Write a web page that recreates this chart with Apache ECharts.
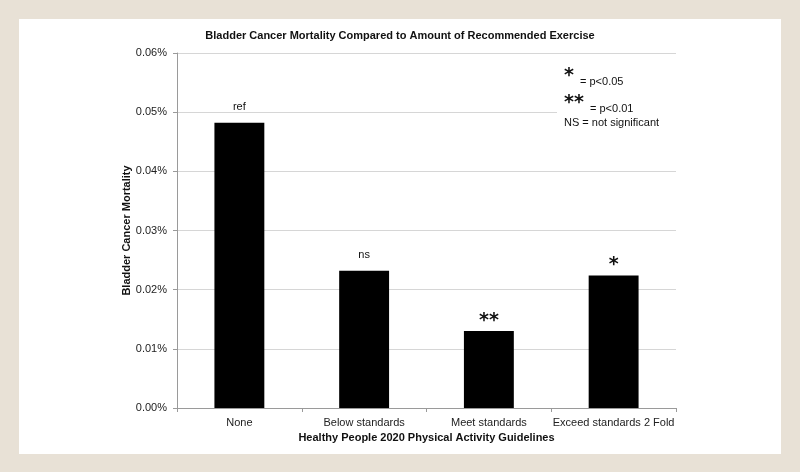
<!DOCTYPE html>
<html>
<head>
<meta charset="utf-8">
<script src="https://cdn.jsdelivr.net/npm/echarts@6/dist/echarts.min.js"></script>
<style>
html,body{margin:0;padding:0;background:#e8e1d6;}
#wrap{position:absolute;left:0;top:0;width:800px;height:472px;background:#e8e1d6;}
#panel{position:absolute;left:19px;top:19px;width:762px;height:435px;background:#ffffff;}
#chart{position:absolute;left:0;top:0;width:800px;height:472px;}
</style>
</head>
<body>
<div id="wrap"><div id="panel"></div><div id="chart"></div></div>
<script>
var titleText = 'Bladder Cancer Mortality Compared to Amount of Recommended Exercise';
var categories = ['None', 'Below standards', 'Meet standards', 'Exceed standards 2 Fold'];
var mortality = [0.0482, 0.0232, 0.0130, 0.0224];
var significance = ['ref', 'ns', '**', '*'];
var yTicks = ['0.00%', '0.01%', '0.02%', '0.03%', '0.04%', '0.05%', '0.06%'];
var xAxisTitle = 'Healthy People 2020 Physical Activity Guidelines';
var yAxisTitle = 'Bladder Cancer Mortality';

var FONT = '"Liberation Sans", Arial, sans-serif';
var STAR_FONT = '"DejaVu Sans", sans-serif';
var chart = echarts.init(document.getElementById('chart'), null, {renderer: 'canvas'});

var seriesData = mortality.map(function (v, i) {
  var s = significance[i];
  var isStar = s.indexOf('*') >= 0;
  return {
    value: v,
    label: {
      show: true,
      position: 'top',
      formatter: s,
      fontFamily: isStar ? STAR_FONT : FONT,
      fontWeight: isStar ? 'bold' : 'normal',
      color: '#111',
      fontSize: isStar ? 19 : 11,
      distance: isStar ? 0 : 10,
      lineHeight: isStar ? 20 : 12
    }
  };
});

var option = {
  backgroundColor: 'transparent',
  animation: false,
  title: {
    text: titleText,
    left: 'center',
    top: 25,
    textStyle: {fontFamily: FONT, fontSize: 11, fontWeight: 'bold', color: '#111'}
  },
  grid: {left: 177, right: 124, top: 53, height: 355, containLabel: false},
  xAxis: {
    type: 'category',
    data: categories,
    name: xAxisTitle,
    nameLocation: 'middle',
    nameGap: 24,
    nameTextStyle: {fontFamily: FONT, fontSize: 11, fontWeight: 'bold', color: '#111'},
    axisLine: {lineStyle: {color: '#9a9a9a', width: 1}},
    axisTick: {show: true, interval: 0, alignWithLabel: false, length: 4, lineStyle: {color: '#9a9a9a'}},
    axisLabel: {interval: 0, fontFamily: FONT, fontSize: 11, color: '#222', margin: 9},
    splitLine: {show: false}
  },
  yAxis: {
    type: 'value',
    min: 0,
    max: 0.06,
    interval: 0.01,
    name: yAxisTitle,
    nameLocation: 'middle',
    nameRotate: 90,
    nameGap: 45,
    nameMoveOverlap: false,
    nameTextStyle: {fontFamily: FONT, fontSize: 11, fontWeight: 'bold', color: '#111'},
    axisLine: {show: true, lineStyle: {color: '#9a9a9a', width: 1}},
    axisTick: {show: true, length: 4, lineStyle: {color: '#9a9a9a'}},
    axisLabel: {
      fontFamily: FONT, fontSize: 11, color: '#222', margin: 10,
      formatter: function (v) { return yTicks[Math.round(v / 0.01)]; }
    },
    splitLine: {show: true, lineStyle: {color: '#d6d6d6', width: 1}}
  },
  series: [{
    type: 'bar',
    data: seriesData,
    barWidth: '40%',
    itemStyle: {color: '#000000'},
    z: 2
  }],
  graphic: [
    {type: 'rect', left: 557, top: 58, z: 5, shape: {width: 126, height: 82}, style: {fill: '#ffffff'}},
    {type: 'text', left: 564, top: 67, z: 6, style: {text: '*', font: 'bold 19px ' + STAR_FONT, fill: '#111'}},
    {type: 'text', left: 580, top: 76, z: 6, style: {text: '= p<0.05', font: '11px ' + FONT, fill: '#111'}},
    {type: 'text', left: 564, top: 94, z: 6, style: {text: '**', font: 'bold 19px ' + STAR_FONT, fill: '#111'}},
    {type: 'text', left: 590, top: 103, z: 6, style: {text: '= p<0.01', font: '11px ' + FONT, fill: '#111'}},
    {type: 'text', left: 564, top: 117, z: 6, style: {text: 'NS = not significant', font: '11px ' + FONT, fill: '#111'}}
  ]
};
chart.setOption(option);
</script>
</body>
</html>
